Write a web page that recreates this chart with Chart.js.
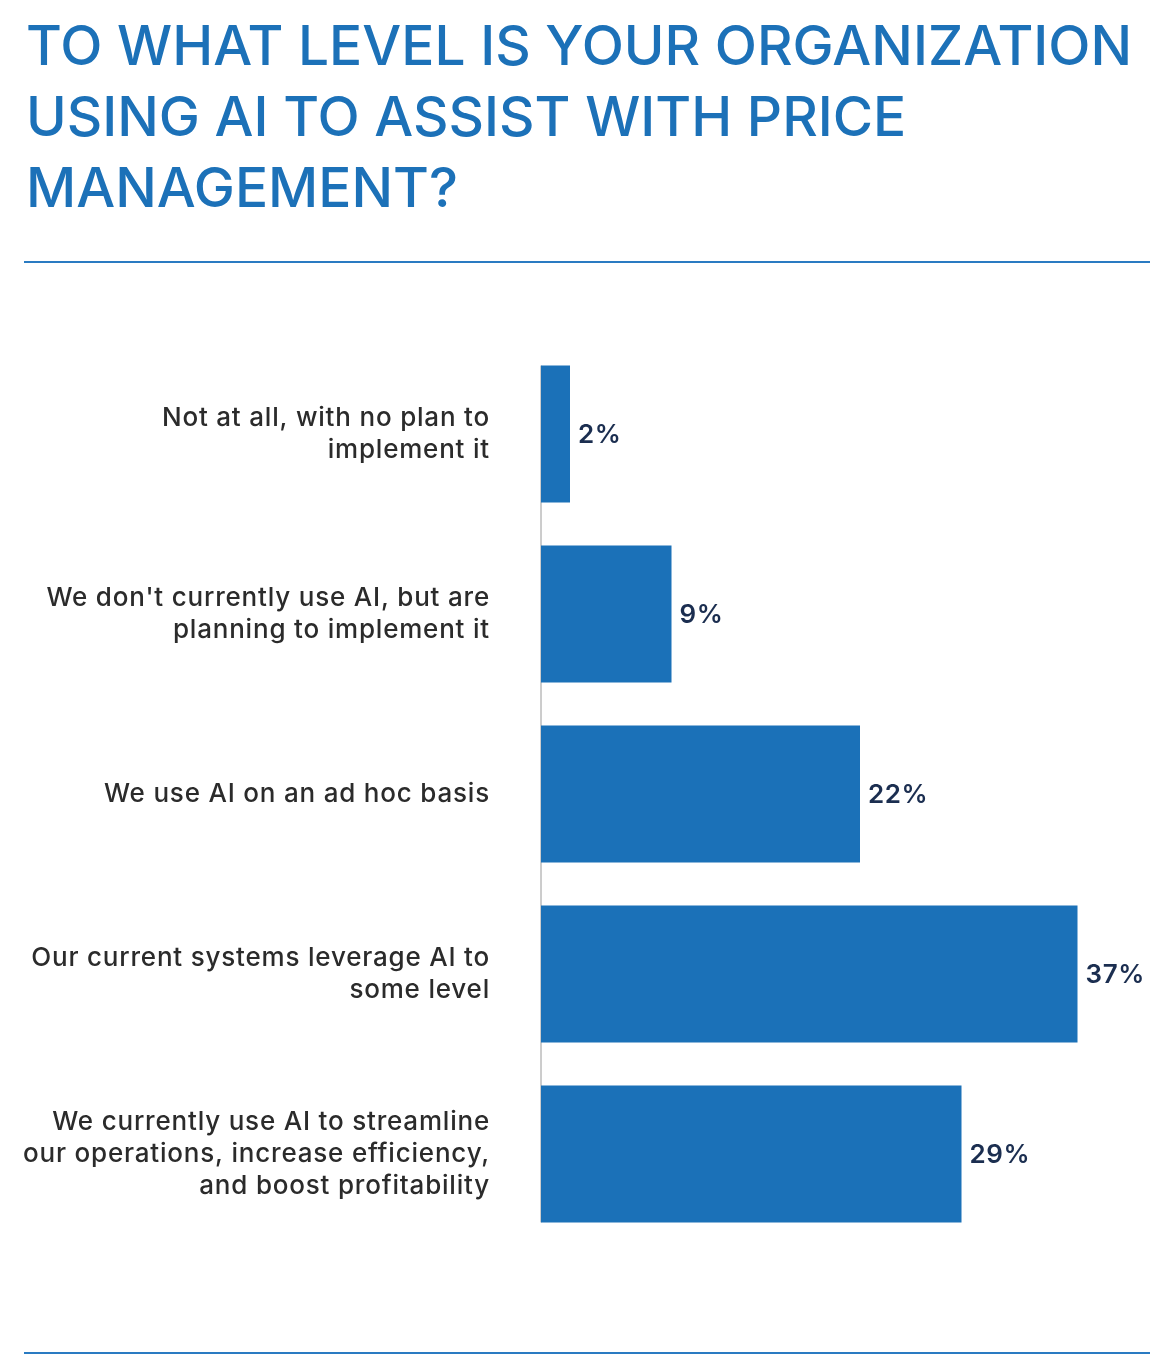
<!DOCTYPE html>
<html>
<head>
<meta charset="utf-8">
<script src="https://cdn.jsdelivr.net/npm/chart.js@4.4.1/dist/chart.umd.min.js"></script>
<style>
  html, body { margin: 0; padding: 0; background: #fff; }
  body { width: 1174px; height: 1356px; position: relative; overflow: hidden; }
  .title {
    position: absolute; left: 26px; top: 10px; width: 1148px;
    font-family: Inter, "Noto Sans", sans-serif; font-weight: 500;
    font-size: 55px; line-height: 71px; color: #1c71b8; letter-spacing: 0px;
  }
  .rule { position: absolute; left: 24px; width: 1126px; height: 2px; background: #2a7bc2; }
  .chart-box { position: absolute; left: 0; top: 300px; width: 1174px; height: 1000px; }
</style>
</head>
<body>
<div class="title">TO WHAT LEVEL IS YOUR ORGANIZATION<br>USING AI TO ASSIST WITH PRICE<br>MANAGEMENT?</div>
<div class="rule" style="top:261px"></div>
<div class="chart-box"><canvas id="levelChart" width="1174" height="1000"></canvas></div>
<div class="rule" style="top:1352px"></div>
<script>
// survey answers, one per bar (multi-line labels)
const categories = [
    ['Not at all, with no plan to', 'implement it'],
    ["We don't currently use AI, but are", 'planning to implement it'],
    ['We use AI on an ad hoc basis'],
    ['Our current systems leverage AI to', 'some level'],
    ['We currently use AI to streamline', 'our operations, increase efficiency,', 'and boost profitability']
];
const shares = [2, 9, 22, 37, 29];

const barBlue = '#1b71b8';

// wider tracking for the category text, like the original
const tracking = {
    id: 'tracking',
    beforeDraw(chart) { chart.ctx.letterSpacing = '0.8px'; }
};

// value labels at the end of each bar
const valueLabels = {
    id: 'valueLabels',
    afterDatasetsDraw(chart) {
        const ctx = chart.ctx;
        const meta = chart.getDatasetMeta(0);
        ctx.save();
        ctx.letterSpacing = '0.6px';
        ctx.font = '600 26px Inter, "Noto Sans", sans-serif';
        ctx.fillStyle = '#1b2e50';
        ctx.textAlign = 'left';
        ctx.textBaseline = 'middle';
        meta.data.forEach((bar, i) => {
            ctx.fillText(shares[i] + '%', bar.x + 8, bar.y + 1);
        });
        ctx.restore();
    }
};

// thin grey baseline running from first bar top to last bar bottom
const baseLine = {
    id: 'baseLine',
    beforeDatasetsDraw(chart) {
        const meta = chart.getDatasetMeta(0);
        const first = meta.data[0], last = meta.data[meta.data.length - 1];
        const x = chart.scales.x.getPixelForValue(0);
        const ctx = chart.ctx;
        ctx.save();
        ctx.strokeStyle = '#9a9a9a';
        ctx.lineWidth = 1;
        ctx.beginPath();
        ctx.moveTo(x, first.y - first.height / 2);
        ctx.lineTo(x, last.y + last.height / 2);
        ctx.stroke();
        ctx.restore();
    }
};

new Chart(document.getElementById('levelChart'), {
    type: 'bar',
    data: {
        labels: categories,
        datasets: [{
            data: shares,
            backgroundColor: barBlue,
            barPercentage: 0.76,
            categoryPercentage: 1
        }]
    },
    options: {
        indexAxis: 'y',
        responsive: false,
        animation: false,
        layout: { padding: { top: 44, bottom: 56, right: 24, left: 0 } },
        plugins: { legend: { display: false }, tooltip: { enabled: false } },
        scales: {
            x: { display: false, min: 0, max: 42 },
            y: {
                afterFit: (scale) => {
                    scale.width = 541;
                    scale.paddingTop = 0;
                    scale.paddingBottom = 0;
                },
                grid: { display: false, drawTicks: false },
                border: { display: false },
                ticks: {
                    padding: 51,
                    color: '#2b2b2b',
                    font: { family: 'Inter, "Noto Sans", sans-serif', size: 26, weight: 500, lineHeight: 1.23 }
                }
            }
        }
    },
    plugins: [tracking, baseLine, valueLabels]
});
</script>
</body>
</html>
